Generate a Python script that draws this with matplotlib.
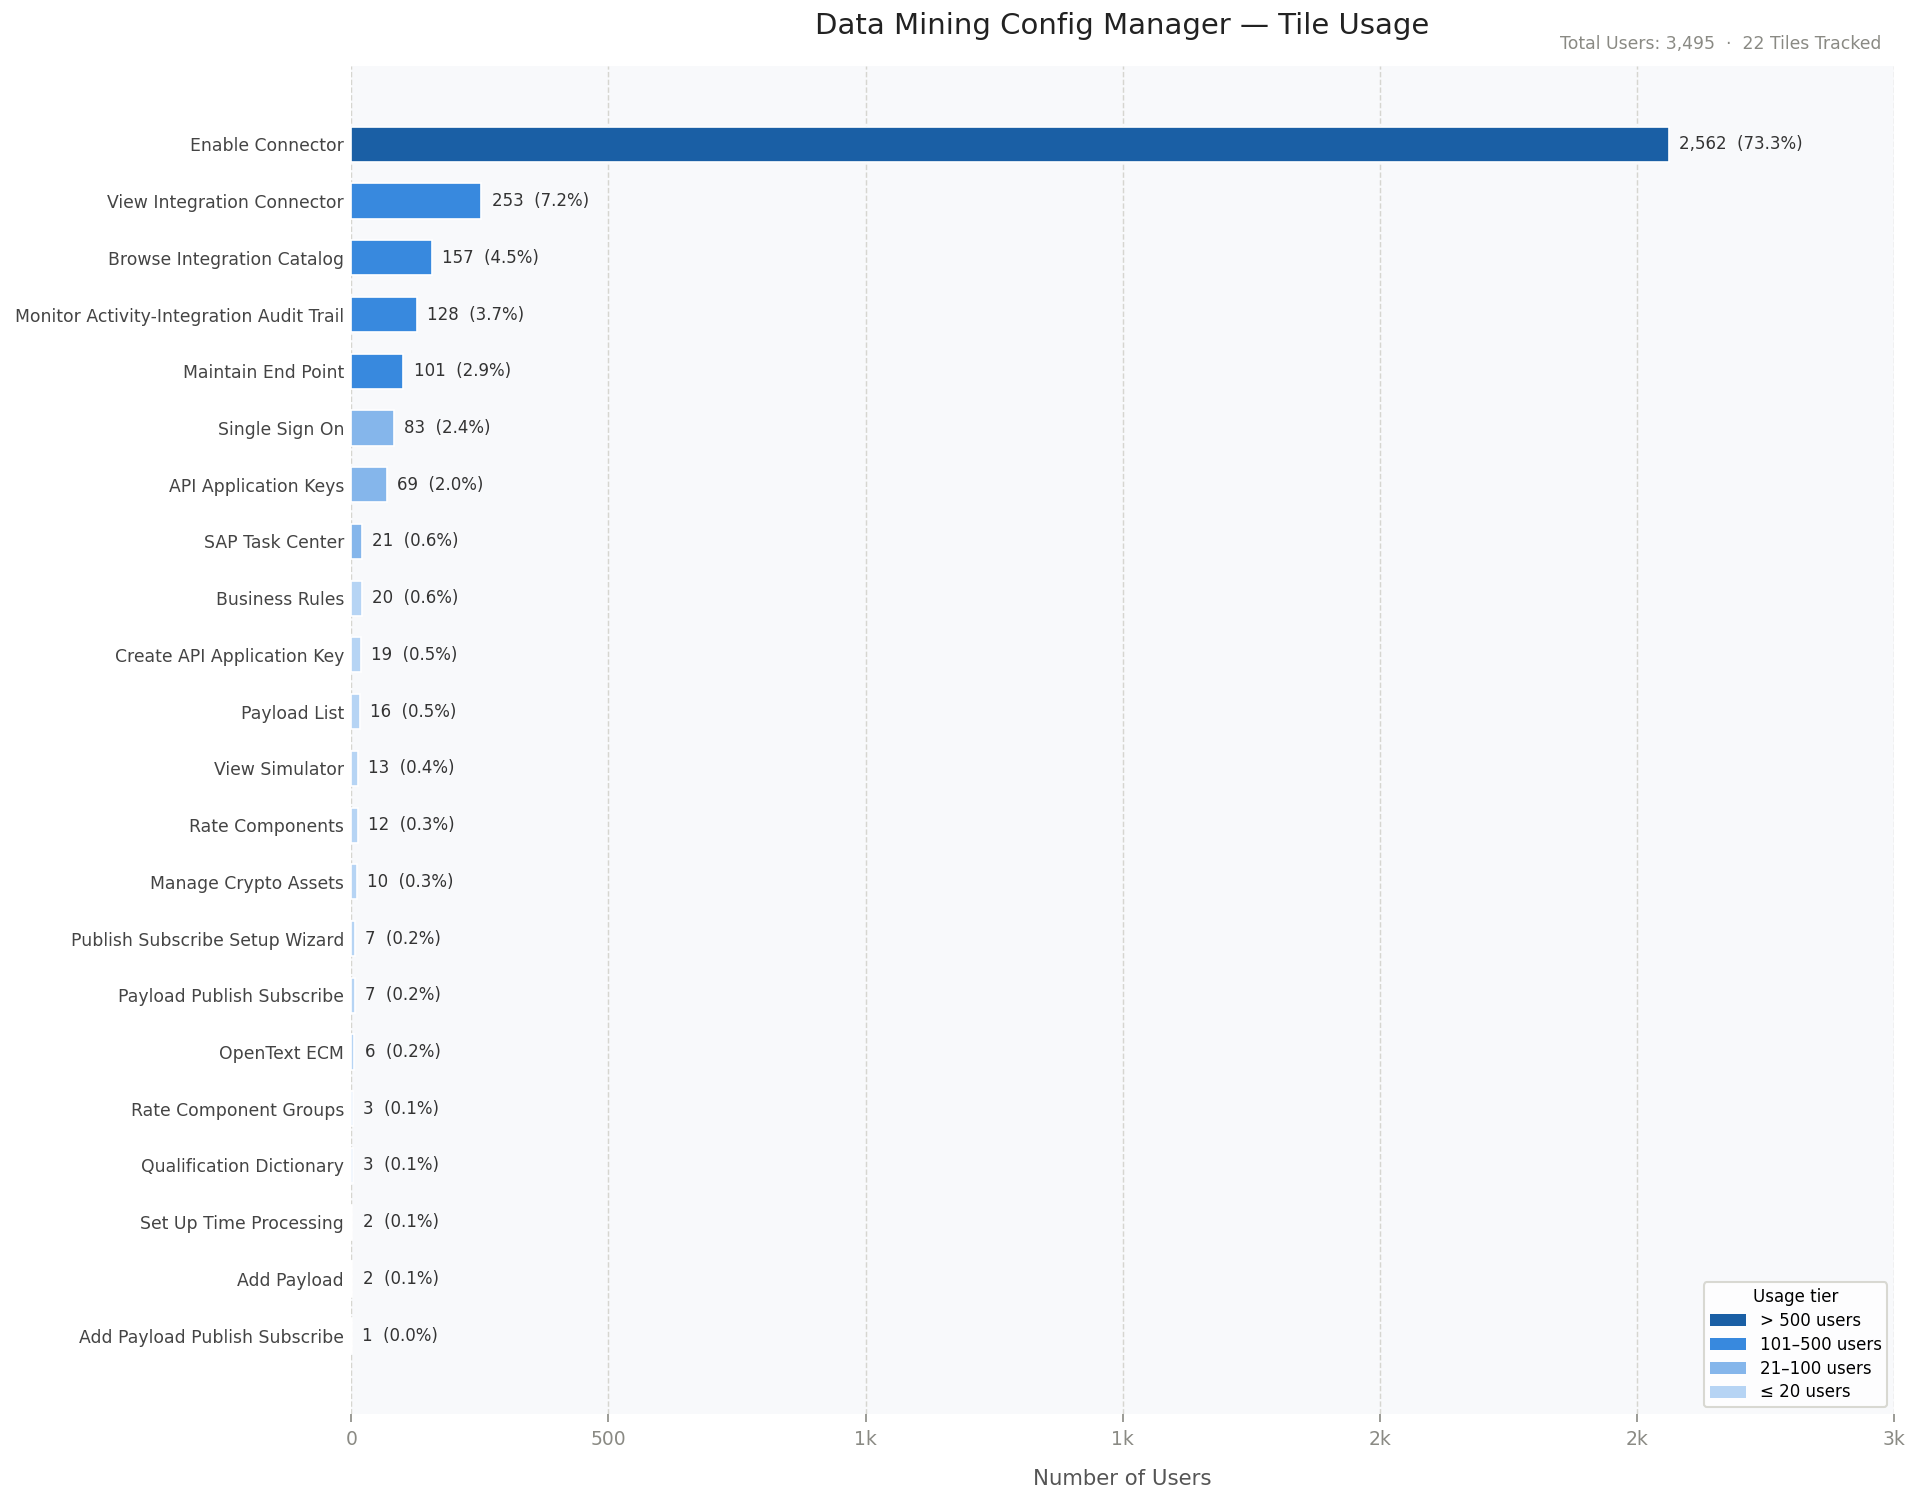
import numpy as np
import matplotlib.pyplot as plt
from matplotlib.patches import Patch
from matplotlib.ticker import FuncFormatter, MultipleLocator

tiles = ["Enable Connector", "View Integration Connector", "Browse Integration Catalog",
         "Monitor Activity-Integration Audit Trail", "Maintain End Point", "Single Sign On",
         "API Application Keys", "SAP Task Center", "Business Rules", "Create API Application Key",
         "Payload List", "View Simulator", "Rate Components", "Manage Crypto Assets",
         "Publish Subscribe Setup Wizard", "Payload Publish Subscribe", "OpenText ECM",
         "Rate Component Groups", "Qualification Dictionary", "Set Up Time Processing",
         "Add Payload", "Add Payload Publish Subscribe"]
users = [2562, 253, 157, 128, 101, 83, 69, 21, 20, 19, 16, 13, 12, 10, 7, 7, 6, 3, 3, 2, 2, 1]

tier_labels = ["> 500 users", "101\u2013500 users", "21\u2013100 users", "\u2264 20 users"]
tier_colors = ["#1a5fa5", "#3889de", "#85b6eb", "#b6d4f4"]

total = sum(users)


def tier(v):
    if v > 500:
        return 0
    if v > 100:
        return 1
    if v > 20:
        return 2
    return 3


fig = plt.figure(figsize=(12.8, 1501 / 150), dpi=150)
ax = fig.add_axes([0.183, 0.058, 0.8035, 0.898])
ax.set_facecolor("#f8f9fb")

y = np.arange(len(tiles))
colors = [tier_colors[tier(v)] for v in users]
ax.barh(y, users, height=0.62, color=colors, edgecolor="white", linewidth=0.8, zorder=3)

for yi, v in zip(y, users):
    ax.text(v + 20, yi, f"{v:,}  ({v / total * 100:.1f}%)", va="center", ha="left",
            fontsize=8, color="#333333", zorder=4)

ax.set_yticks(y)
ax.set_yticklabels(tiles, fontsize=8.3, color="#444444")
ax.set_ylim(len(tiles) - 1 + 1.38, -1.38)
ax.set_xlim(0, 3000)
ax.xaxis.set_major_locator(MultipleLocator(500))
ax.xaxis.set_major_formatter(FuncFormatter(lambda x, p: f"{int(x / 1000)}k" if x >= 1000 else f"{int(x)}"))
ax.tick_params(axis="x", labelsize=9, colors="#8a8a84", length=4, width=0.8)
ax.tick_params(axis="y", length=0, pad=3.5)
for s in ax.spines.values():
    s.set_visible(False)
ax.grid(axis="x", linestyle="--", color="#d6d6d0", linewidth=0.7, zorder=0)
ax.set_axisbelow(True)

ax.set_xlabel("Number of Users", fontsize=10.2, color="#555555", labelpad=10)

fig.text(0.5845, 0.983, "Data Mining Config Manager \u2014 Tile Usage", ha="center", va="center",
         fontsize=14, color="#222222")
fig.text(0.98, 0.971, f"Total Users: {total:,}  \u00b7  {len(tiles)} Tiles Tracked", ha="right",
         va="center", fontsize=8.3, color="#8a8a84")

handles = [Patch(facecolor=c, label=l) for c, l in zip(tier_colors, tier_labels)]
leg = ax.legend(handles=handles, title="Usage tier", loc="lower right", fontsize=8,
                title_fontsize=8, frameon=True, facecolor="white", edgecolor="#d0d0c8",
                handlelength=2.2, handleheight=0.75, labelspacing=0.35, borderaxespad=0.4,
                borderpad=0.35)

fig.savefig("out.png", dpi=150)
